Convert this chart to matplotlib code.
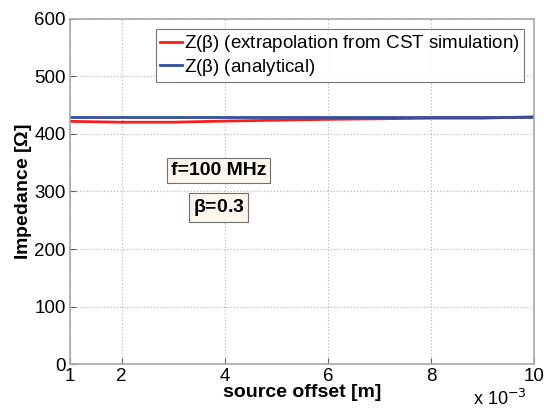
import matplotlib
matplotlib.use("Agg")
import matplotlib.pyplot as plt

# source offset in units of 1e-3 m
offset = [1, 2, 3, 4, 5, 6, 7, 8, 9, 10]
z_cst = [422, 420.5, 420.5, 422.5, 424, 425.5, 426.5, 427.5, 427.5, 430]
z_analytical = [430, 430, 430, 430, 430, 430, 430, 430, 430, 430]
xticks = [1, 2, 4, 6, 8, 10]
yticks = [0, 100, 200, 300, 400, 500, 600]

plt.rcParams.update({"font.family": ["Liberation Sans", "DejaVu Sans"], "font.size": 13})
RED = "#FF1A1A"; BLUE = "#3050A0"; FRAME = "#A8A8A8"

fig = plt.figure(figsize=(5.44, 4.11), dpi=100)
ax = fig.add_axes([70/544, 47/411, 464/544, 345/411])
ax.plot(offset, z_cst, color=RED, lw=2, label=r"Z($\mathregular{\beta}$) (extrapolation from CST simulation)")
ax.plot(offset, z_analytical, color=BLUE, lw=2, label=r"Z($\mathregular{\beta}$) (analytical)")
ax.set_xlim(1, 10); ax.set_ylim(0, 600)
ax.set_xticks(xticks); ax.set_yticks(yticks)
ax.grid(True, ls=(0, (1, 2)), color="#B0B0B0", lw=0.8)
for s in ax.spines.values():
    s.set_color(FRAME); s.set_linewidth(1.2)
ax.tick_params(direction="in", color="#606060", length=4, labelsize=13.5, pad=3)
ax.set_xlabel("source offset [m]", fontweight="bold", fontsize=14, labelpad=-1)
ax.set_ylabel("Impedance [$\\mathregular{\\Omega}$]", fontweight="bold", fontsize=14, labelpad=0)
fig.text(527/544, 2/411, r"x 10$^{-3}$", ha="right", va="bottom", fontsize=13)

leg = ax.legend(loc="upper right", bbox_to_anchor=(0.978, 0.97), fontsize=13.5, fancybox=False,
                handlelength=1.2, handletextpad=0.1, borderpad=0.2, labelspacing=0.15, borderaxespad=0)
leg.get_frame().set_edgecolor("#555555"); leg.get_frame().set_linewidth(0.8)

box = dict(boxstyle="square,pad=0.2", fc="#FDF6EC", ec="#707070", lw=0.8)
ax.text(3.88, 336, "f=100 MHz", ha="center", va="center", fontweight="bold", fontsize=14, bbox=box)
ax.text(3.88, 272, r"$\mathregular{\beta}$=0.3", ha="center", va="center", fontweight="bold", fontsize=14, bbox=box)

fig.savefig("out.png", dpi=100)
